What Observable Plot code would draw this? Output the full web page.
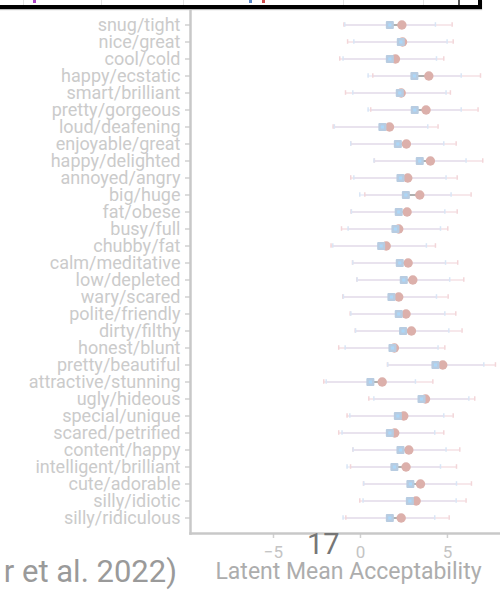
<!DOCTYPE html>
<html><head><meta charset="utf-8">
<script src="https://cdn.jsdelivr.net/npm/d3@7"></script>
<script src="https://cdn.jsdelivr.net/npm/@observablehq/plot@0.6"></script>
<style>
html,body{margin:0;padding:0;background:#fff;width:500px;height:591px;overflow:hidden;position:relative;}
#chart{position:absolute;left:0;top:0;}
#chart svg g[aria-label="y-axis tick label"]{fill:#cbcbcb;}
#chart svg g[aria-label="x-axis tick label"]{fill:#c4c4c4;}
#legendbox{position:absolute;left:0;top:0;width:478px;height:5px;background:#fff;border-bottom:4px solid #000;border-right:4px solid #000;box-shadow:0 1px 1px #bbb;z-index:5;}
.vl{position:absolute;top:0;width:1px;height:5px;background:#e2e2e2;}
.mk{position:absolute;top:0;width:3px;height:3px;}
#slide{position:absolute;left:307px;top:527px;font:29px Roboto;color:#767676;z-index:6;}
#cite{position:absolute;right:323px;top:553px;font:31px Roboto;color:#9a9a9a;white-space:nowrap;z-index:6;}
</style></head><body>
<div id="chart"></div>
<div id="legendbox">
  <div class="vl" style="left:23px"></div>
  <div class="vl" style="left:101px"></div>
  <div class="vl" style="left:183px"></div>
  <div class="vl" style="left:343px"></div>
  <div class="vl" style="left:423px"></div>
  <div class="vl" style="left:458px;width:2px;background:#555"></div>
  <div class="mk" style="left:33px;background:#b048c8"></div>
  <div class="mk" style="left:249px;background:#5a88c8"></div>
  <div class="mk" style="left:262px;background:#d05050"></div>
</div>
<div id="slide">17</div>
<div id="cite">r et al. 2022)</div>
<script>
const labels = ["snug/tight","nice/great","cool/cold","happy/ecstatic","smart/brilliant","pretty/gorgeous","loud/deafening","enjoyable/great","happy/delighted","annoyed/angry","big/huge","fat/obese","busy/full","chubby/fat","calm/meditative","low/depleted","wary/scared","polite/friendly","dirty/filthy","honest/blunt","pretty/beautiful","attractive/stunning","ugly/hideous","special/unique","scared/petrified","content/happy","intelligent/brilliant","cute/adorable","silly/idiotic","silly/ridiculous"];
// blue (square) series
const meanA = [1.69,2.32,1.69,3.10,2.26,3.12,1.26,2.15,3.41,2.30,2.61,2.20,2.01,1.19,2.26,2.49,1.78,2.20,2.45,1.84,4.31,0.57,3.51,2.15,1.69,2.30,1.95,2.87,2.84,1.69];
const loA   = [-0.90,-0.38,-1.00,0.44,-0.44,0.44,-1.50,-0.56,0.78,-0.38,-0.04,-0.52,-0.71,-1.59,-0.44,-0.19,-0.98,-0.55,-0.28,-0.88,1.57,-1.97,0.77,-0.61,-1.06,-0.42,-0.77,0.19,0.15,-1.00];
const hiA   = [4.31,4.98,4.37,5.79,4.92,5.79,3.87,4.79,6.07,4.92,5.21,4.85,4.60,3.79,4.89,5.13,4.37,4.85,5.08,4.46,7.09,3.16,6.23,4.79,4.27,4.92,4.60,5.52,5.50,4.27];
// red (circle) series
const meanB = [2.38,2.42,2.01,3.93,2.34,3.77,1.67,2.64,4.02,2.72,3.41,2.68,2.20,1.48,2.74,3.01,2.20,2.62,2.93,1.95,4.73,1.25,3.74,2.49,1.97,2.78,2.62,3.45,3.20,2.34];
const loB   = [-0.95,-0.74,-1.19,0.71,-0.86,0.59,-1.57,-0.56,0.80,-0.56,0.25,-0.54,-1.09,-1.69,-0.46,-0.21,-1.02,-0.59,-0.30,-1.25,1.55,-2.11,0.48,-0.77,-1.25,-0.44,-0.57,0.17,-0.04,-0.84];
const hiB   = [5.27,5.33,4.79,6.90,5.17,6.76,4.46,5.50,7.03,5.56,6.36,5.56,5.02,4.31,5.59,5.94,5.04,5.48,5.84,4.85,7.76,4.16,6.57,5.33,4.79,5.71,5.52,6.38,6.07,5.10];
const xTicks = [-5, 0, 5];
const xDomain = [-9.77, 8.05];
const xLabel = "Latent Mean Acceptability";

const rows = labels.map((label, i) => ({label, a: meanA[i], loA: loA[i], hiA: hiA[i], b: meanB[i], loB: loB[i], hiB: hiB[i]}));
const capInset = 6.2;

const plot = Plot.plot({
  width: 500, height: 591,
  marginLeft: 190, marginRight: 0, marginTop: 8, marginBottom: 58,
  style: {fontFamily: "Roboto", background: "transparent", overflow: "visible"},
  x: {domain: xDomain},
  y: {domain: labels, paddingInner: 0, paddingOuter: 0.05},
  marks: [
    Plot.axisY({tickSize: 5, tickPadding: 5, fontSize: 18, color: "#cbcbcb", stroke: "#d0d0d0", strokeWidth: 1.5, label: null}),
    Plot.axisX({ticks: xTicks, tickSize: 5, tickPadding: 7, fontSize: 17, color: "#c4c4c4", stroke: "#d0d0d0", strokeWidth: 1.5, label: null}),
    Plot.frame({anchor: "left", stroke: "#c8c8c8", strokeWidth: 2.5}),
    Plot.frame({anchor: "bottom", stroke: "#c8c8c8", strokeWidth: 2.5}),
    Plot.ruleY(rows, {y: "label", x1: "loB", x2: "hiB", stroke: "#f7e8eb", strokeWidth: 2}),
    Plot.ruleY(rows, {y: "label", x1: "loA", x2: "hiA", stroke: "#d4dcf2", strokeOpacity: 0.4, strokeWidth: 2}),
    Plot.tickX(rows, {x: "loB", y: "label", stroke: "#f3d6d9", strokeWidth: 1.5, insetTop: capInset, insetBottom: capInset}),
    Plot.tickX(rows, {x: "hiB", y: "label", stroke: "#f3d6d9", strokeWidth: 1.5, insetTop: capInset, insetBottom: capInset}),
    Plot.tickX(rows, {x: "loA", y: "label", stroke: "#d9e6f6", strokeWidth: 1.5, insetTop: capInset, insetBottom: capInset}),
    Plot.tickX(rows, {x: "hiA", y: "label", stroke: "#d9e6f6", strokeWidth: 1.5, insetTop: capInset, insetBottom: capInset}),
    Plot.ruleY(rows, {y: "label", x1: "a", x2: "b", stroke: "#b0b0b0", strokeWidth: 2}),
    Plot.dot(rows, {x: "b", y: "label", r: 4.7, fill: "#dcb0ab"}),
    Plot.dot(rows, {x: "a", y: "label", symbol: "square", r: 3.4, fill: "#b8cce1", stroke: "#b8cce1", strokeWidth: 2, strokeLinejoin: "round"}),
    Plot.dot(rows, {x: "a", y: "label", symbol: "square", r: 1.8, fill: "#acd7f8"}),
    Plot.text([xLabel], {text: d => d, frameAnchor: "bottom", dy: 45, dx: 3, fontSize: 23, fill: "#adadad"})
  ]
});
document.getElementById("chart").append(plot);
</script>
</body></html>
